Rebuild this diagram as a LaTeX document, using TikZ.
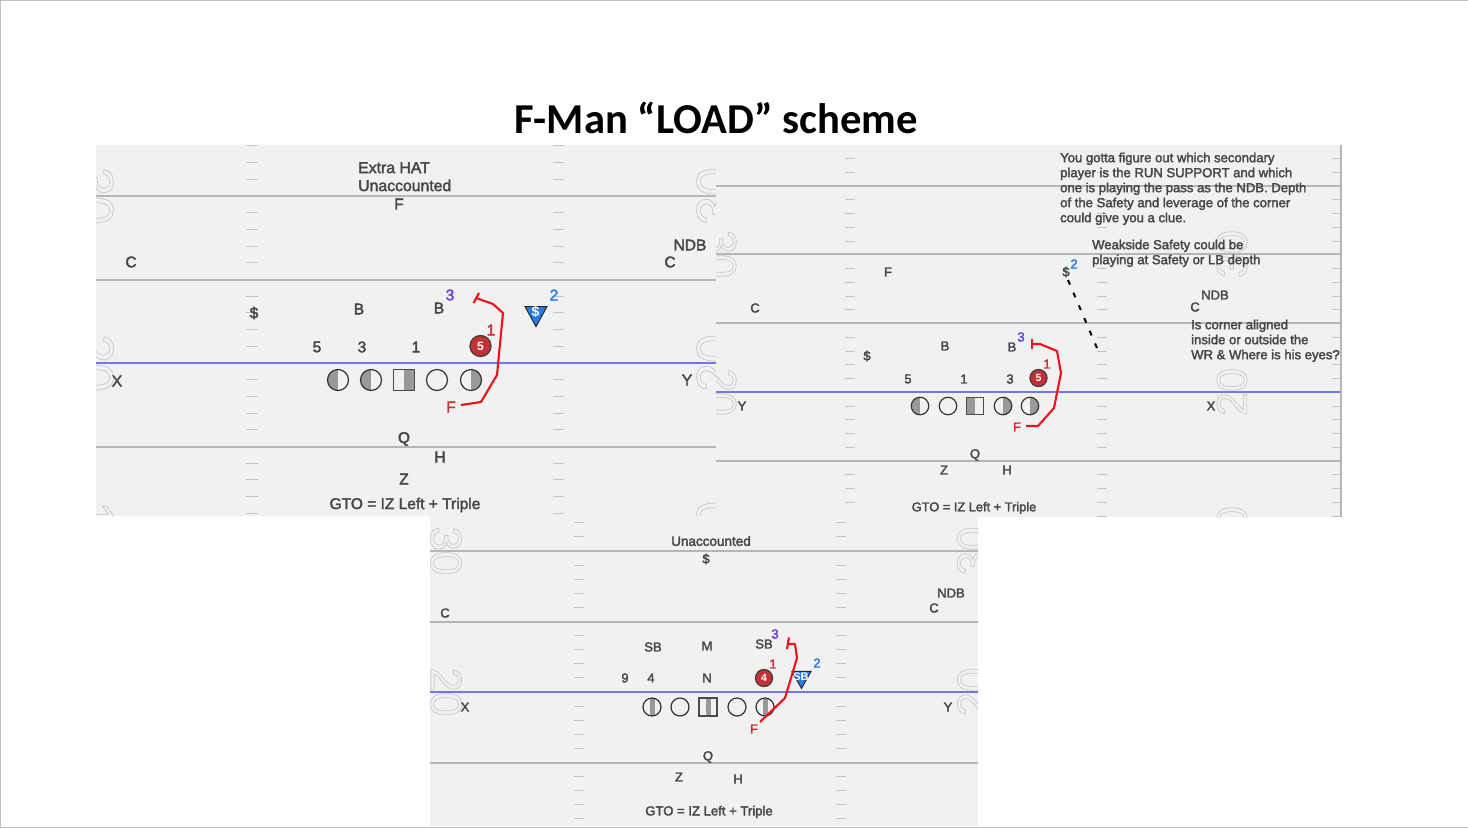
\documentclass[tikz,border=0pt]{standalone}
\usepackage{fontspec}
\usetikzlibrary{shapes.geometric}
\setmainfont{Liberation Sans}
\newfontfamily\titlefont{Carlito}
\newfontfamily\fieldfont{Liberation Sans}[FakeBold=2.4]
\definecolor{turf}{HTML}{F1F1F1}
\definecolor{yardgray}{HTML}{B6B6B6}
\definecolor{hashgray}{HTML}{C4C4C4}
\definecolor{scrimblue}{HTML}{7474EE}
\definecolor{inkgray}{HTML}{474747}
\definecolor{halfgray}{HTML}{999999}
\definecolor{routered}{HTML}{F01018}
\definecolor{tagred}{HTML}{CE3238}
\definecolor{tagpurple}{HTML}{6A40DC}
\definecolor{tagblue}{HTML}{2A7CEA}
\newcommand{\outlined}[1]{\special{pdf:code 1 Tr 0.8 w 0.80 G}#1\special{pdf:code 0 Tr}}
\tikzset{
    yardline/.style={draw=yardgray, line width=1.8pt},
    scrimline/.style={draw=scrimblue, line width=2.5pt},
    hashmark/.style={draw=hashgray, line width=1pt},
    lbl/.style={text=inkgray, inner sep=0pt, font=\fieldfont\fontsize{#1}{#1}\selectfont},
    lbl/.default=13,
    rednum/.style={text=tagred, inner sep=0pt, font=\fieldfont\fontsize{#1}{#1}\selectfont},
    purplenum/.style={text=tagpurple, inner sep=0pt, font=\fieldfont\fontsize{#1}{#1}\selectfont},
    bluenum/.style={text=tagblue, inner sep=0pt, font=\fieldfont\fontsize{#1}{#1}\selectfont},
    note/.style={text=inkgray, inner sep=0pt, anchor=north west, align=left, font=\fieldfont\fontsize{13.1}{15}\selectfont},
    yardnum/.style={inner sep=0pt, font=\fontsize{#1}{#1}\selectfont},
    olman/.style={circle, draw=black!80, line width=1.2pt, inner sep=0pt, minimum size=#1},
    center box/.style={rectangle, draw=black!70, line width=1.2pt, inner sep=0pt, minimum size=#1},
    leftgray/.style={path picture={\fill[halfgray] (path picture bounding box.south west) rectangle (path picture bounding box.north);}},
    rightgray/.style={path picture={\fill[halfgray] (path picture bounding box.south) rectangle (path picture bounding box.north east);}},
    midgray/.style={path picture={\fill[halfgray] ([xshift=-2.5pt]path picture bounding box.south) rectangle ([xshift=2.5pt]path picture bounding box.north);}},
    keyman/.style={circle, fill=tagred!95!black, draw=black!75, line width=1.3pt, text=white, inner sep=0pt, minimum size=#1, font=\bfseries\fontsize{12}{12}\selectfont},
    route/.style={draw=routered, line width=2.1pt, line join=round},
    dropman/.style={isosceles triangle, isosceles triangle stretches, shape border rotate=-90, fill=tagblue, draw=black!85, line width=1pt, inner sep=0pt},
}
\begin{document}
\begin{tikzpicture}[x=1pt, y=-1pt]
    \useasboundingbox (0,0) rectangle (1468,828);
    \draw[black!25, line width=1pt] (0,0.5) -- (1468,0.5);
    \draw[black!25, line width=1pt] (0.5,0) -- (0.5,828);
    \draw[black!25, line width=1pt] (0,827.5) -- (1468,827.5);

    \node[text=black, inner sep=0pt, font=\titlefont\bfseries\fontsize{42.6}{42.6}\selectfont] (title) at (716,118) {F-Man “LOAD” scheme};

    % Top left field
    \begin{scope}
        \clip (96,145) rectangle (716,516);
        \fill[turf] (96,145) rectangle (716,516);
        \node[yardnum=52, rotate=-90] (num1a) at (95,196) {\outlined{30}};
        \node[yardnum=52, rotate=-90] (num1b) at (95,363) {\outlined{20}};
        \node[yardnum=52, rotate=-90] (num1c) at (95,530) {\outlined{10}};
        \node[yardnum=52, rotate=90] (num1d) at (715,196) {\outlined{30}};
        \node[yardnum=52, rotate=90] (num1e) at (715,363) {\outlined{20}};
        \node[yardnum=52, rotate=90] (num1f) at (715,530) {\outlined{10}};
        \foreach \k in {-3,-2,-1,1,2,3,4,6,7,8,9,11,12,13,14,16,17,18,19} {
            \draw[hashmark] (246,196+\k*16.7) -- (258,196+\k*16.7);
            \draw[hashmark] (553,196+\k*16.7) -- (564,196+\k*16.7);
        }
        \draw[yardline] (96,196) -- (716,196);
        \draw[yardline] (96,280) -- (716,280);
        \draw[yardline] (96,447) -- (716,447);
        \draw[scrimline] (96,363) -- (716,363);
    \end{scope}

    \node[note, font=\fieldfont\fontsize{15.8}{18}\selectfont] (hat1) at (358,162) {Extra HAT\\Unaccounted};
    \node[lbl=15.5] (f1a) at (399,204) {F};
    \node[lbl=15.5] (c1a) at (131,262) {C};
    \node[lbl=15.5] (ndb1) at (690,245) {NDB};
    \node[lbl=15.5] (c1b) at (670,262) {C};
    \node[lbl=15.5] (safe1) at (254,313) {\$};
    \node[lbl=15.5] (b1a) at (359,309) {B};
    \node[lbl=15.5] (b1b) at (439,308) {B};
    \node[purplenum=15.5] (t1c) at (450,295) {3};
    \node[dropman, minimum width=22pt, minimum height=20pt] (drop1) at (536,313) {};
    \node[text=white, inner sep=0pt, font=\bfseries\fontsize{14}{14}\selectfont] (drop1s) at (535.5,312) {\$};
    \node[bluenum=15.5] (t1b) at (554,295) {2};
    \node[lbl=15.5] (n1a) at (317,347) {5};
    \node[lbl=15.5] (n1b) at (362,347) {3};
    \node[lbl=15.5] (n1c) at (416,347) {1};
    \node[keyman=21pt] (key1) at (480.5,346) {5};
    \node[rednum=15.5] (t1a) at (491,330) {1};
    \node[olman=21pt, leftgray] (ol1a) at (338,380) {};
    \node[olman=21pt, leftgray] (ol1b) at (371,380) {};
    \node[center box=21pt, rightgray] (ol1c) at (404,380) {};
    \node[olman=21pt] (ol1d) at (437,380) {};
    \node[olman=21pt, rightgray] (ol1e) at (471,380) {};
    \node[lbl=15.5] (x1) at (117,381) {X};
    \node[lbl=15.5] (y1) at (687,380) {Y};
    \node[rednum=15.5] (f1b) at (451,407) {F};
    \node[lbl=15.5] (q1) at (404,439) {Q};
    \node[lbl=15.5] (h1) at (440,457) {H};
    \node[lbl=15.5] (z1) at (404,479) {Z};
    \node[lbl=15.5] (gto1) at (405,505) {GTO = IZ Left + Triple};

    % Fit on the load
    \coordinate (r1s) at (461,405);
    \coordinate (r1e) at (476,298);
    \draw[route] (r1s) -- (481,402) -- (497,375) -- (503,313) -- (493,304) -- (r1e);
    \draw[route] (473.5,303) -- (479,293);

    % Top right field
    \begin{scope}
        \clip (716,145) rectangle (1342,517);
        \fill[turf] (716,145) rectangle (1342,517);
        \node[yardnum=43, rotate=-90] (num2a) at (721,254) {\outlined{30}};
        \node[yardnum=43, rotate=-90] (num2b) at (721,392) {\outlined{20}};
        \node[yardnum=43, rotate=90] (num2d) at (1232,254) {\outlined{30}};
        \node[yardnum=43, rotate=90] (num2e) at (1232,392) {\outlined{20}};
        \node[yardnum=43, rotate=90] (num2f) at (1232,530) {\outlined{10}};
        \foreach \k in {-2,-1,1,2,3,4,6,7,8,9,11,12,13,14,16,17,18,19,21,22,23,24} {
            \draw[hashmark] (845,186+\k*13.75) -- (855,186+\k*13.75);
            \draw[hashmark] (1097,186+\k*13.75) -- (1107,186+\k*13.75);
            \draw[hashmark] (1332,186+\k*13.75) -- (1342,186+\k*13.75);
        }
        \draw[yardline] (716,186) -- (1342,186);
        \draw[yardline] (716,254) -- (1342,254);
        \draw[yardline] (716,323) -- (1342,323);
        \draw[yardline] (716,461) -- (1342,461);
        \draw[scrimline] (716,392) -- (1342,392);
        \draw[yardgray, line width=2pt] (1341,145) -- (1341,517);
    \end{scope}

    \node[note] (txt2a) at (1060,152.5) {You gotta figure out which secondary\\player is the RUN SUPPORT and which\\one is playing the pass as the NDB. Depth\\of the Safety and leverage of the corner\\could give you a clue.};
    \node[note] (txt2b) at (1092,239.5) {Weakside Safety could be\\playing at Safety or LB depth};
    \node[note] (txt2c) at (1191,319.5) {Is corner aligned\\inside or outside the\\WR \& Where is his eyes?};
    \node[lbl=13] (f2a) at (888,272) {F};
    \node[lbl=13] (safe2a) at (1066,272) {\$};
    \node[bluenum=13] (t2b) at (1074,264) {2};
    \node[lbl=13] (c2a) at (755,308) {C};
    \node[lbl=13] (c2b) at (1195,307) {C};
    \node[lbl=13] (ndb2) at (1215,295) {NDB};
    \node[lbl=13] (safe2b) at (867,356) {\$};
    \node[lbl=13] (b2a) at (945,346) {B};
    \node[lbl=13] (b2b) at (1012,347) {B};
    \node[purplenum=13] (t2c) at (1021,337) {3};
    \node[lbl=13] (n2a) at (908,379) {5};
    \node[lbl=13] (n2b) at (964,379) {1};
    \node[lbl=13] (n2c) at (1010,379) {3};
    \node[keyman=17pt, font=\bfseries\fontsize{10.5}{10.5}\selectfont] (key2) at (1038.5,378) {5};
    \node[rednum=13] (t2a) at (1047,364) {1};
    \node[olman=17.5pt, leftgray] (ol2a) at (920,406) {};
    \node[olman=17.5pt] (ol2b) at (948,406) {};
    \node[center box=17.5pt, leftgray] (ol2c) at (975,406) {};
    \node[olman=17.5pt, rightgray] (ol2d) at (1003,406) {};
    \node[olman=17.5pt, rightgray] (ol2e) at (1030,406) {};
    \node[lbl=13] (y2) at (742,406) {Y};
    \node[lbl=13] (x2) at (1211,406) {X};
    \node[rednum=13] (f2b) at (1017,427) {F};
    \node[lbl=13] (q2) at (975,455) {Q};
    \node[lbl=13] (z2) at (944,470) {Z};
    \node[lbl=13] (h2) at (1007,470) {H};
    \node[lbl=12.8] (gto2) at (974,508) {GTO = IZ Left + Triple};

    % Fit and safety rotation
    \coordinate (r2s) at (1026,426);
    \coordinate (r2e) at (1032,344);
    \draw[route] (r2s) -- (1038,426) -- (1054,408) -- (1061,373) -- (1057,351) -- (1040,344) -- (r2e);
    \draw[route] (1032,339) -- (1032,349);
    \coordinate (rot2a) at (1068,280);
    \coordinate (rot2b) at (1097,348);
    \draw[black, line width=2pt, dash pattern=on 5pt off 8.8pt] (rot2a) -- (rot2b);

    % Bottom field
    \begin{scope}
        \clip (430,516) rectangle (978,826);
        \fill[turf] (430,516) rectangle (978,826);
        \node[yardnum=44, rotate=-90] (num3a) at (446,551) {\outlined{30}};
        \node[yardnum=44, rotate=-90] (num3b) at (446,692) {\outlined{20}};
        \node[yardnum=44, rotate=90] (num3c) at (973,551) {\outlined{30}};
        \node[yardnum=44, rotate=90] (num3d) at (973,692) {\outlined{20}};
        \foreach \k in {-2,-1,1,2,3,4,6,7,8,9,11,12,13,14,16,17,18,19} {
            \draw[hashmark] (574,551+\k*14.1) -- (584,551+\k*14.1);
            \draw[hashmark] (836,551+\k*14.1) -- (846,551+\k*14.1);
        }
        \draw[yardline] (430,551) -- (978,551);
        \draw[yardline] (430,622) -- (978,622);
        \draw[yardline] (430,763) -- (978,763);
        \draw[scrimline] (430,692) -- (978,692);
    \end{scope}

    \node[lbl=13.5] (hat3) at (711,541) {Unaccounted};
    \node[lbl=13] (safe3) at (706,559) {\$};
    \node[lbl=13] (ndb3) at (951,593) {NDB};
    \node[lbl=13] (c3a) at (934,608) {C};
    \node[lbl=13] (c3b) at (445,613) {C};
    \node[lbl=13] (sb3a) at (653,647) {SB};
    \node[lbl=13] (m3) at (707,646) {M};
    \node[lbl=13] (sb3b) at (764,644) {SB};
    \node[purplenum=13] (t3c) at (775,634) {3};
    \node[lbl=13] (n3a) at (625,678) {9};
    \node[lbl=13] (n3b) at (651,678) {4};
    \node[lbl=13] (n3c) at (707,678) {N};
    \node[keyman=17pt, font=\bfseries\fontsize{10.5}{10.5}\selectfont] (key3) at (764,678) {4};
    \node[rednum=13] (t3a) at (773,664) {1};
    \node[dropman, minimum width=19pt, minimum height=17pt] (drop3) at (801.5,677) {};
    \node[text=white, inner sep=0pt, font=\bfseries\fontsize{11}{11}\selectfont] (drop3s) at (801,677) {SB};
    \node[bluenum=13] (t3b) at (817,663) {2};
    \node[olman=18pt, midgray] (ol3a) at (652,707) {};
    \node[olman=18pt] (ol3b) at (680,707) {};
    \node[center box=18pt, midgray] (ol3c) at (708,707) {};
    \node[olman=18pt] (ol3d) at (737,707) {};
    \node[olman=18pt, midgray] (ol3e) at (765,707) {};
    \node[lbl=13] (x3) at (465,707) {X};
    \node[lbl=13] (y3) at (948,707) {Y};
    \node[rednum=13] (f3) at (754,729) {F};
    \node[lbl=13] (q3) at (708,757) {Q};
    \node[lbl=13] (z3) at (679,777) {Z};
    \node[lbl=13] (h3) at (738,779) {H};
    \node[lbl=13.1] (gto3) at (709,812) {GTO = IZ Left + Triple};

    % Inside fit
    \coordinate (r3s) at (760,722);
    \coordinate (r3e) at (788,644);
    \draw[route] (r3s) -- (785,698) -- (797,658) -- (795,644) -- (r3e);
    \draw[route] (789,637.5) -- (787,649);
\end{tikzpicture}
\end{document}
